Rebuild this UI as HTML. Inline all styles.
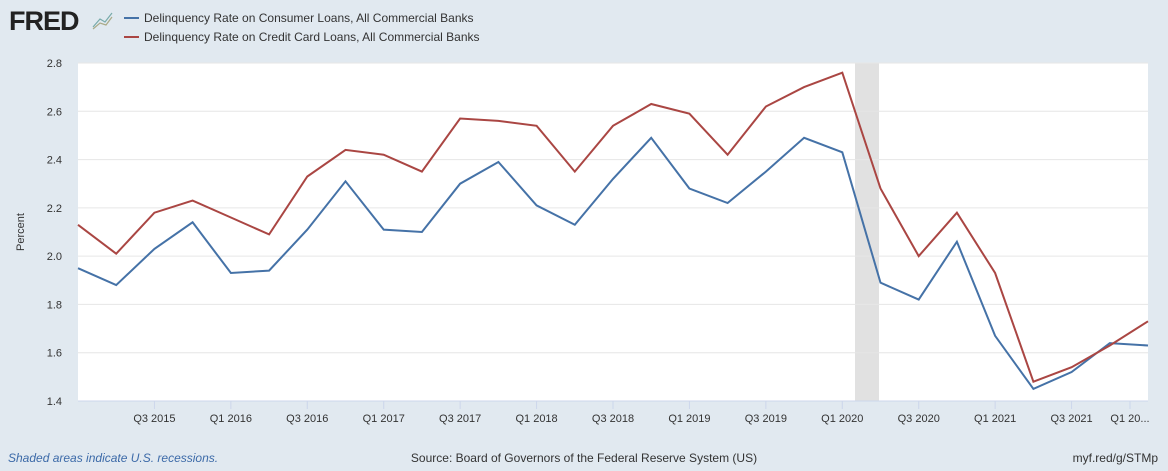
<!DOCTYPE html>
<html><head><meta charset="utf-8"><style>
body{margin:0;width:1168px;height:466px;background:#e1e9f0;font-family:"Liberation Sans",sans-serif;overflow:hidden}
</style></head><body>
<svg id="s" width="1168" height="466" xmlns="http://www.w3.org/2000/svg" font-family="Liberation Sans, sans-serif">
<rect x="0" y="0" width="1168" height="466" fill="#e1e9f0"/>
<text x="9" y="30" font-size="27" font-weight="bold" fill="#222" letter-spacing="-1">FRED</text>
<g stroke-width="1.2" fill="none"><path d="M93 27 L100 19 L105 22 L112 13" stroke="#7aa"/><path d="M93 29 L100 23 L106 25 L112 17" stroke="#aa8"/></g>
<line x1="124" y1="18" x2="139" y2="18" stroke="#4572a7" stroke-width="2"/>
<line x1="124" y1="37" x2="139" y2="37" stroke="#aa4643" stroke-width="2"/>
<text x="144" y="22" font-size="12" fill="#333">Delinquency Rate on Consumer Loans, All Commercial Banks</text>
<text x="144" y="41" font-size="12" fill="#333">Delinquency Rate on Credit Card Loans, All Commercial Banks</text>
<rect x="78" y="63" width="1070" height="338" fill="#fff"/>
<rect x="855" y="63" width="24" height="338" fill="#e1e1e1"/>
<g id="grid" stroke="#e6e6e6" stroke-width="1"></g>
<line x1="78" y1="401" x2="1148" y2="401" stroke="#ccd6eb"/>
<g id="yl" font-size="11" fill="#333" text-anchor="end"></g>
<g id="xl" font-size="11" fill="#333" text-anchor="middle"></g>
<text transform="translate(24,232) rotate(-90)" font-size="11" fill="#333" text-anchor="middle">Percent</text>
<polyline id="b" fill="none" stroke="#4572a7" stroke-width="2"/>
<polyline id="r" fill="none" stroke="#aa4643" stroke-width="2"/>
<text x="8" y="462" font-size="12" font-style="italic" fill="#3c6aa8">Shaded areas indicate U.S. recessions.</text>
<text x="584" y="462" font-size="12" fill="#333" text-anchor="middle">Source: Board of Governors of the Federal Reserve System (US)</text>
<text x="1158" y="462" font-size="12" fill="#333" text-anchor="end">myf.red/g/STMp</text>
</svg>
<script>
var Y=function(v){return 401-(v-1.4)*241.43};
var ns="http://www.w3.org/2000/svg",g=document.getElementById('grid'),yl=document.getElementById('yl'),xl=document.getElementById('xl');
for(var i=0;i<=7;i++){var v=1.4+i*0.2,y=Y(v);
if(i>0){var l=document.createElementNS(ns,'line');l.setAttribute('x1',78);l.setAttribute('x2',1148);l.setAttribute('y1',y);l.setAttribute('y2',y);g.appendChild(l);}
var t=document.createElementNS(ns,'text');t.setAttribute('x',62);t.setAttribute('y',y+4);t.textContent=v.toFixed(1);yl.appendChild(t);}
var labs=["Q3 2015","Q1 2016","Q3 2016","Q1 2017","Q3 2017","Q1 2018","Q3 2018","Q1 2019","Q3 2019","Q1 2020","Q3 2020","Q1 2021","Q3 2021","Q1 20..."];
var dx=1070/28;
labs.forEach(function(s,k){var x=78+dx*(2+2*k);if(k==13)x=1130;
var l=document.createElementNS(ns,'line');l.setAttribute('x1',x);l.setAttribute('x2',x);l.setAttribute('y1',401);l.setAttribute('y2',409);l.setAttribute('stroke','#ccd6eb');xl.appendChild(l);
var t=document.createElementNS(ns,'text');t.setAttribute('x',x);t.setAttribute('y',422);t.textContent=s;xl.appendChild(t);});
var B=[1.95,1.88,2.03,2.14,1.93,1.94,2.11,2.31,2.11,2.10,2.30,2.39,2.21,2.13,2.32,2.49,2.28,2.22,2.35,2.49,2.43,1.89,1.82,2.06,1.67,1.45,1.52,1.64,1.63];
var R=[2.13,2.01,2.18,2.23,2.16,2.09,2.33,2.44,2.42,2.35,2.57,2.56,2.54,2.35,2.54,2.63,2.59,2.42,2.62,2.70,2.76,2.28,2.00,2.18,1.93,1.48,1.54,1.63,1.73];
function P(a){return a.map(function(v,i){return (78+i*dx).toFixed(1)+','+Y(v).toFixed(1)}).join(' ')}
document.getElementById('b').setAttribute('points',P(B));
document.getElementById('r').setAttribute('points',P(R));
</script>
</body></html>
